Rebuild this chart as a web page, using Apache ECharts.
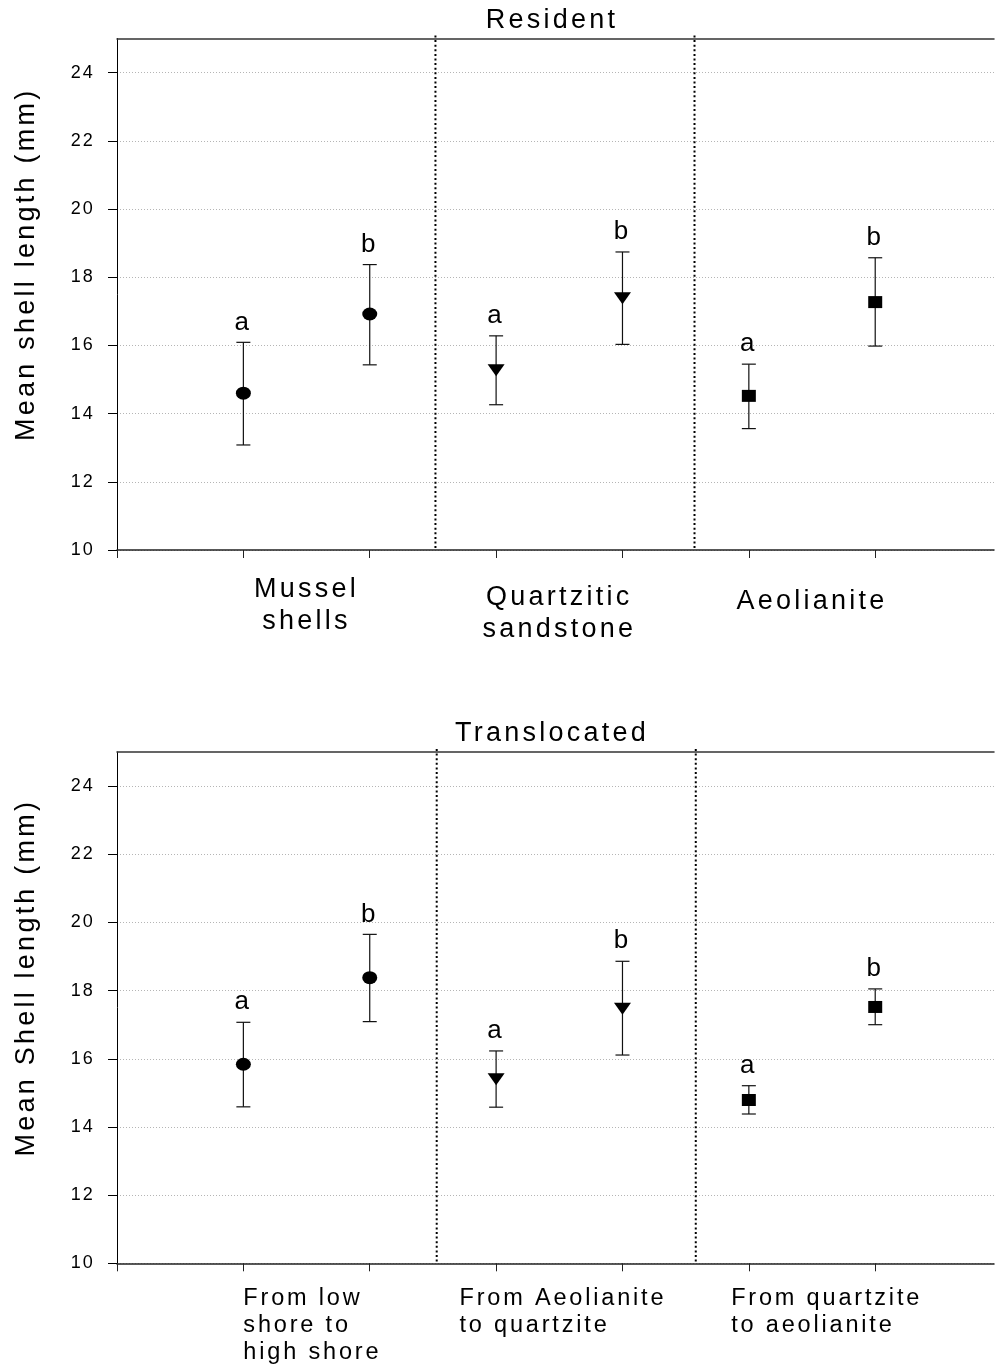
<!DOCTYPE html>
<html><head><meta charset="utf-8">
<script src="https://cdn.jsdelivr.net/npm/echarts@6/dist/echarts.min.js"></script>
<style>html,body{margin:0;padding:0;background:#fff}#c{width:996px;height:1369px}</style>
</head><body><div id="c"></div>
<script>
// Wide letter tracking like the original figure (canvas letterSpacing).
(function(){
  var P = CanvasRenderingContext2D.prototype;
  if (!('letterSpacing' in P)) return;
  function setLS(ctx){ var m = /(\d+(?:\.\d+)?)px/.exec(ctx.font); if (m) ctx.letterSpacing = (parseFloat(m[1]) * 0.12).toFixed(2) + 'px'; }
  var f = P.fillText, mt = P.measureText;
  P.fillText = function(){ setLS(this); return f.apply(this, arguments); };
  P.measureText = function(){ setLS(this); return mt.apply(this, arguments); };
})();

// ---------------- DATA ----------------
const groupPositions = [1, 2, 3, 4, 5, 6];
const letters = ['a', 'b', 'a', 'b', 'a', 'b'];

const residentMeans = [14.60, 16.92, 15.27, 17.38, 14.52, 17.27];
const residentUpper = [16.09, 18.37, 16.28, 18.74, 15.45, 18.57];
const residentLower = [13.08, 15.43, 14.26, 16.03, 13.56, 15.98];

const translocatedMeans = [15.84, 18.38, 15.40, 17.47, 14.79, 17.52];
const translocatedUpper = [17.07, 19.65, 16.23, 18.86, 15.21, 18.05];
const translocatedLower = [14.59, 17.09, 14.58, 16.11, 14.38, 17.00];

const residentCategories = ['Mussel\nshells', 'Quartzitic\nsandstone', 'Aeolianite'];
const translocatedCategories = ['From low\nshore to\nhigh shore', 'From Aeolianite\nto quartzite', 'From quartzite\nto aeolianite'];

const yTickValues = [10, 12, 14, 16, 18, 20, 22, 24];
const xTickValues = [0, 1, 2, 3, 4, 5, 6];
const residentSeparators = [2.52, 4.57];
const translocatedSeparators = [2.53, 4.58];

const panelTitles = ['Resident', 'Translocated'];
const yAxisTitles = ['Mean shell length (mm)', 'Mean Shell length (mm)'];

// ---------------- LAYOUT / STYLE ----------------
const FONT = '"Liberation Sans", Arial, Helvetica, sans-serif';
const ellipse = 'path://M0,50 A50,50 0 1,0 100,50 A50,50 0 1,0 0,50 Z';
const triDown = 'path://M0,0 L100,0 L50,100 Z';
const square = 'path://M0,0 L100,0 L100,100 L0,100 Z';
const markerSymbols = [ellipse, ellipse, triDown, triDown, square, square];
const markerSizes = [[15, 13], [15, 13], [17, 12], [17, 12], [14, 12], [14, 12]];

const grids = [
  { left: 117, top: 38.5, width: 877, height: 511.5 },
  { left: 117, top: 752, width: 877, height: 511.3 }
];
const X_MAX = 6.94;
const residentLabelX = [1.5, 3.5, 5.5];
const residentLabelDy = [56, 64, 52];
const translocatedLabelX = [1, 2.71, 4.86];
const translocatedLabelDy = 22;

const panels = [
  { means: residentMeans, upper: residentUpper, lower: residentLower, seps: residentSeparators },
  { means: translocatedMeans, upper: translocatedUpper, lower: translocatedLower, seps: translocatedSeparators }
];

const chart = echarts.init(document.getElementById('c'), null, { renderer: 'canvas' });

const xAxes = [], yAxes = [], series = [], titles = [];
panels.forEach(function(p, k){
  xAxes.push({
    gridIndex: k, type: 'value', min: 0, max: X_MAX, position: 'bottom',
    axisLine: { show: true, onZero: false, lineStyle: { color: '#222', width: 1.5 } },
    axisTick: { show: true, length: 8, inside: false, customValues: xTickValues, lineStyle: { color: '#222', width: 1 } },
    axisLabel: { show: false }, splitLine: { show: false }
  });
  xAxes.push({
    gridIndex: k, type: 'value', min: 0, max: X_MAX, position: 'top',
    axisLine: { show: true, onZero: false, lineStyle: { color: '#333', width: 1.5 } },
    axisTick: { show: false }, axisLabel: { show: false }, splitLine: { show: false }
  });
  yAxes.push({
    gridIndex: k, type: 'value', min: 10, max: 25, interval: 2,
    name: yAxisTitles[k], nameLocation: 'middle', nameGap: 75,
    nameTextStyle: { fontSize: 27, color: '#000', fontFamily: FONT, padding: [0, 0, 0, 60] },
    axisLine: { show: true, onZero: false, lineStyle: { color: '#000', width: 1 } },
    axisTick: { show: true, length: 9, inside: false, customValues: yTickValues, lineStyle: { color: '#000', width: 1 } },
    axisLabel: { show: true, customValues: yTickValues, margin: 22, fontSize: 18, color: '#000', fontFamily: FONT },
    splitLine: { show: true, lineStyle: { color: '#b5b5b5', width: 1, type: [1, 2] } }
  });
  titles.push({
    text: panelTitles[k], left: 552, top: grids[k].top - 33, textAlign: 'center', padding: 0,
    textStyle: { fontSize: 27, fontWeight: 'normal', color: '#000', fontFamily: FONT, lineHeight: 30 }
  });
  // group separators (dotted vertical lines)
  series.push({
    type: 'custom', xAxisIndex: 2 * k, yAxisIndex: k, clip: false, silent: true, z: 1,
    data: p.seps.map(function(x){ return [x]; }),
    renderItem: function(params, api){
      const a = api.coord([api.value(0), 25]);
      const b = api.coord([api.value(0), 10]);
      return { type: 'line', shape: { x1: a[0], y1: a[1] - 3, x2: b[0], y2: b[1] },
        style: { stroke: '#000', lineWidth: 2, lineDash: [2, 2.6] } };
    }
  });
  // error bars + significance letters
  series.push({
    type: 'custom', xAxisIndex: 2 * k, yAxisIndex: k, clip: false, silent: true, z: 2,
    data: groupPositions.map(function(x, i){ return [x, p.lower[i], p.upper[i]]; }),
    renderItem: function(params, api){
      const x = api.value(0);
      const lo = api.coord([x, api.value(1)]);
      const hi = api.coord([x, api.value(2)]);
      const cap = 7, st = { stroke: '#111', lineWidth: 1.2 };
      return { type: 'group', children: [
        { type: 'line', shape: { x1: lo[0], y1: lo[1], x2: hi[0], y2: hi[1] }, style: st },
        { type: 'line', shape: { x1: lo[0] - cap, y1: lo[1], x2: lo[0] + cap, y2: lo[1] }, style: st },
        { type: 'line', shape: { x1: hi[0] - cap, y1: hi[1], x2: hi[0] + cap, y2: hi[1] }, style: st },
        { type: 'text', style: { text: letters[params.dataIndex], x: hi[0], y: hi[1] - 20,
          align: 'center', verticalAlign: 'middle', font: '26px ' + FONT, fill: '#000' } }
      ] };
    }
  });
  // means
  series.push({
    type: 'scatter', xAxisIndex: 2 * k, yAxisIndex: k, z: 3, silent: true,
    itemStyle: { color: '#000', opacity: 1 },
    data: groupPositions.map(function(x, i){
      return { value: [x, p.means[i]], symbol: markerSymbols[i], symbolSize: markerSizes[i] };
    })
  });
});

chart.setOption({
  animation: false,
  backgroundColor: '#fff',
  title: titles,
  grid: grids,
  xAxis: xAxes,
  yAxis: yAxes,
  series: series
});

// category labels under each panel, positioned through the axes' scales
const graphics = [];
residentCategories.forEach(function(t, i){
  const pt = chart.convertToPixel({ xAxisIndex: 0, yAxisIndex: 0 }, [residentLabelX[i], 10]);
  graphics.push({ type: 'text', x: pt[0], y: pt[1] + residentLabelDy[i], silent: true,
    style: { text: t, align: 'center', verticalAlign: 'middle', font: '27px ' + FONT, lineHeight: 32, fill: '#000' } });
});
translocatedCategories.forEach(function(t, i){
  const pt = chart.convertToPixel({ xAxisIndex: 2, yAxisIndex: 1 }, [translocatedLabelX[i], 10]);
  graphics.push({ type: 'text', x: pt[0], y: pt[1] + translocatedLabelDy, silent: true,
    style: { text: t, align: 'left', verticalAlign: 'top', font: '23.5px ' + FONT, lineHeight: 27, fill: '#000' } });
});
chart.setOption({ graphic: graphics });
</script>
</body></html>
